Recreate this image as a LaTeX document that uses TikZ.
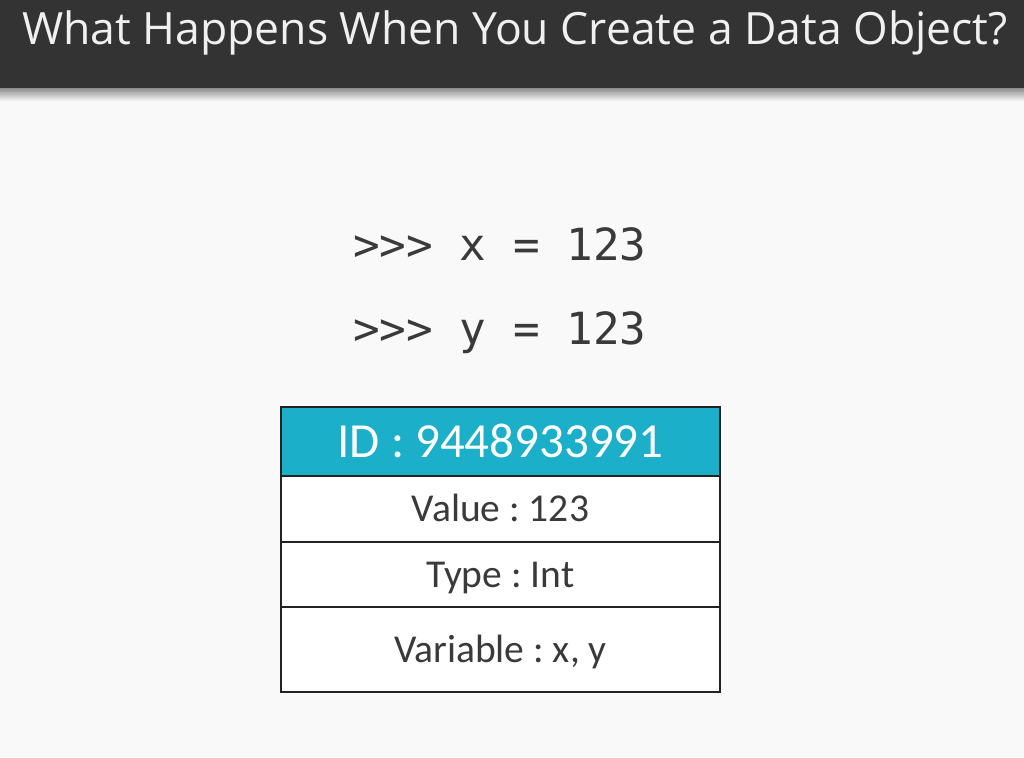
\documentclass[tikz,border=0pt]{standalone}
\usepackage{fontspec}
\setmainfont{Carlito}
\newfontfamily\titlefont{Open Sans}
\newfontfamily\codefont{DejaVu Sans Mono}
\frenchspacing
\definecolor{bgc}{HTML}{F9F9F9}
\definecolor{barc}{HTML}{333333}
\definecolor{cyanc}{HTML}{1BAFC9}
\definecolor{txtc}{HTML}{3A3A3A}
\definecolor{linec}{HTML}{222222}
\begin{document}
\begin{tikzpicture}[x=1pt,y=-1pt,
  row/.style={rectangle, minimum width=438pt, inner sep=0pt, anchor=north,
    text height=25.4pt, text depth=0pt, font=\frenchspacing\fontsize{39.5}{42}\selectfont, text=txtc},
  codeline/.style={anchor=base west, inner sep=0pt, font=\codefont\fontsize{44.3}{48}\selectfont, text=txtc},
  sep/.style={draw=linec, line width=2pt}]
\useasboundingbox (0,0) rectangle (1024,757);
\fill[bgc] (0,0) rectangle (1024,757);
\shade[top color=black!45, bottom color=bgc] (0,88) rectangle (1024,101);
\fill[barc] (0,0) rectangle (1024,88);
\node[anchor=base west, inner sep=0pt, text=white!94!black, font=\titlefont\fontsize{44.5}{50}\selectfont] (title) at (22,45) {What Happens When You Create a Data Object?};
\node[codeline] (l1) at (353,260) {>>> x = 123};
\node[codeline] (l2) at (353,344) {>>> y = 123};
\node[row, minimum height=69pt, fill=cyanc, text=white, text height=31.5pt, font=\frenchspacing\fontsize{49}{52}\selectfont] (id) at (500.5,407) {ID : 9448933991};
\node[row, minimum height=65pt, fill=white] (val) at (id.south) {Value : 123};
\node[row, minimum height=65pt, fill=white] (typ) at (val.south) {Type : Int};
\node[row, minimum height=84pt, fill=white] (var) at (typ.south) {Variable : x, y};
\draw[sep] (id.south west) -- (id.south east);
\draw[sep] (val.south west) -- (val.south east);
\draw[sep] (typ.south west) -- (typ.south east);
\draw[sep] (id.north west) rectangle (var.south east);
\end{tikzpicture}
\end{document}
